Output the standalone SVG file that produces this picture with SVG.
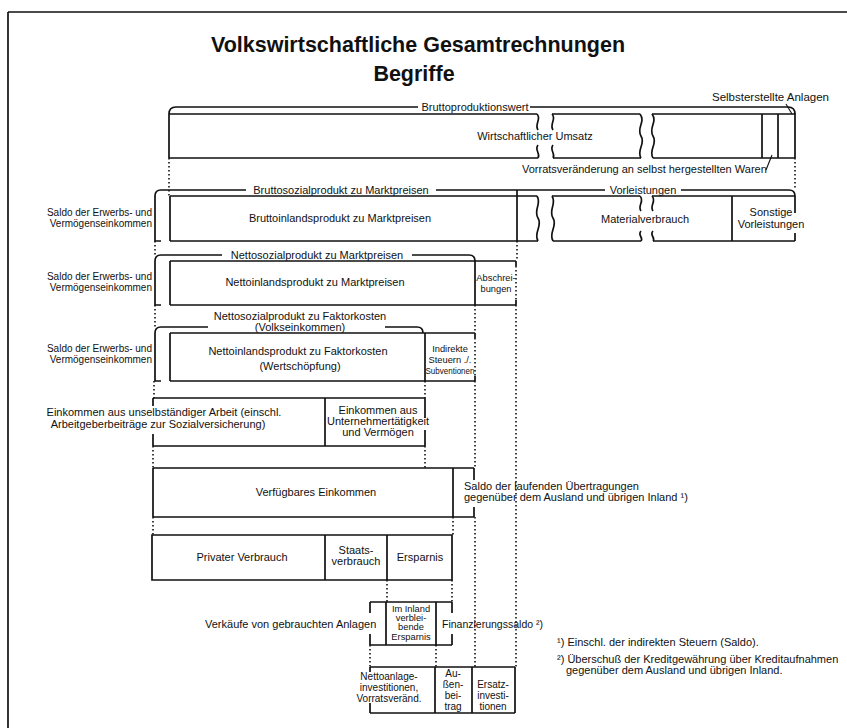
<svg xmlns="http://www.w3.org/2000/svg" width="847" height="728" viewBox="0 0 847 728">
<style>
.l{fill:none;stroke:#111;stroke-width:1.7}
.thin{fill:none;stroke:#111;stroke-width:1.1}
.d{fill:none;stroke:#111;stroke-width:1.6;stroke-dasharray:1.4 2.6}
text{font-family:"Liberation Sans",Arial,sans-serif;font-size:11px;fill:#111}
.m{text-anchor:middle}
.e{text-anchor:end}
.s{font-size:10px}
.xs{font-size:9.3px}
.h{font-weight:bold;font-size:21.5px}
</style>
<rect width="847" height="728" fill="#fff"/>
<g id="frame"><path class="l" d="M8,12 H847 M8,12 V728"/></g>
<g id="title">
<text class="h m" x="418" y="52">Volkswirtschaftliche Gesamtrechnungen</text>
<text class="h m" x="414" y="81">Begriffe</text>
</g>
<g id="bruttoproduktionswert">
<path class="l" d="M169,114 Q169,107 176,107 H418 M530,107 H788 Q795,107 795,114"/>
<text class="m" x="475" y="110.5">Bruttoproduktionswert</text>
<path class="l" d="M169,114 V158 M169,114 H537 M552,114 H640 M652,114 H795 V158 M169,158 H538 M553,158 H641 M653,158 H795 M762,114 V158 M778,114 V158"/>
<path class="l" d="M537,114 C542,119 534,124 538,130 M538,145 C534,150 541,154 538,158 M552,114 C557,119 549,124 553,130 M553,145 C549,150 556,154 553,158"/>
<path class="l" d="M640,114 C646,122 636,128 641,136 C646,144 636,150 641,158 M652,114 C658,122 648,128 653,136 C658,144 648,150 653,158"/>
<text class="m" x="535" y="140">Wirtschaftlicher Umsatz</text>
</g>
<g id="selbsterstellte-anlagen">
<text x="712" y="101" style="font-size:11.5px">Selbsterstellte Anlagen</text>
<path class="thin" d="M786,104 L792,114"/>
</g>
<g id="vorratsveraenderung">
<text x="522" y="173">Vorratsveränderung an selbst hergestellten Waren</text>
<path class="thin" d="M766,170 L772,155"/>
</g>
<g id="bruttosozialprodukt">
<path class="l" d="M155,196 Q155,190 161,190 H246 M436,190 H605 M681,190 H789 Q795,190 795,196"/>
<text class="m" x="341" y="193.5">Bruttosozialprodukt zu Marktpreisen</text>
<text class="m" x="643" y="193.5">Vorleistungen</text>
<path class="l" d="M155,196 V241 H161 M170,196 V241 M170,196 H537 M552,196 H640 M652,196 H795 M170,241 H538 M553,241 H641 M653,241 H795 M517,190 V241 M732,196 V241 M795,196 V213 M795,233 V241"/>
<path class="l" d="M537,196 C542,204 533,210 538,218 C543,226 533,233 538,241 M552,196 C557,204 548,210 553,218 C558,226 548,233 553,241"/>
<path class="l" d="M640,196 C645,201 637,206 641,211 M641,231 C637,235 644,238 641,241 M652,196 C657,201 649,206 653,211 M653,231 C649,235 656,238 653,241"/>
<text class="e s" x="152" y="216">Saldo der Erwerbs- und</text>
<text class="e s" x="152" y="227">Vermögenseinkommen</text>
<text class="m" x="340" y="222">Bruttoinlandsprodukt zu Marktpreisen</text>
<text class="m" x="645" y="223">Materialverbrauch</text>
<text class="m" x="771" y="216">Sonstige</text>
<text class="m" x="771" y="228">Vorleistungen</text>
</g>
<g id="nettosozialprodukt-marktpreise">
<path class="l" d="M155,261 Q155,255 161,255 H222 M412,255 H469 Q475,255 475,261"/>
<text class="m" x="317" y="258.5">Nettosozialprodukt zu Marktpreisen</text>
<path class="l" d="M155,261 V305 H161 M170,261 V305 M170,261 H516 M170,305 H516 M475,261 V305 M516,261 V266 M516,300 V305"/>
<text class="e s" x="152" y="280">Saldo der Erwerbs- und</text>
<text class="e s" x="152" y="291">Vermögenseinkommen</text>
<text class="m" x="315" y="286">Nettoinlandsprodukt zu Marktpreisen</text>
<text class="m xs" x="496" y="281">Abschrei-</text>
<text class="m xs" x="496" y="292">bungen</text>
</g>
<g id="nettosozialprodukt-faktorkosten">
<text class="m" x="300" y="320">Nettosozialprodukt zu Faktorkosten</text>
<text class="m" x="300" y="331">(Volkseinkommen)</text>
<path class="l" d="M155,333 Q155,327 161,327 H208 M385,327 H417 Q423,327 423,333"/>
<path class="l" d="M155,333 V381 H161 M170,333 V381 M170,333 H475 M170,381 H475 M425,333 V381 M475,333 V338 M475,376 V381"/>
<text class="e s" x="152" y="352">Saldo der Erwerbs- und</text>
<text class="e s" x="152" y="363">Vermögenseinkommen</text>
<text class="m" x="298" y="355">Nettoinlandsprodukt zu Faktorkosten</text>
<text class="m" x="300" y="370">(Wertschöpfung)</text>
<text class="m xs" x="450" y="352">Indirekte</text>
<text class="m xs" x="450" y="363">Steuern ./.</text>
<text class="m xs" x="450" y="374" textLength="49" lengthAdjust="spacingAndGlyphs">Subventionen</text>
</g>
<g id="einkommen">
<path class="l" d="M153,398 H425 M153,446 H425 M153,398 V406 M153,434 V446 M325,398 V446 M425,398 V418 M425,430 V446"/>
<text class="m" x="164" y="416">Einkommen aus unselbständiger Arbeit (einschl.</text>
<text class="m" x="158" y="428">Arbeitgeberbeiträge zur Sozialversicherung)</text>
<text class="m" x="378" y="414">Einkommen aus</text>
<text class="m" x="378" y="425">Unternehmertätigkeit</text>
<text class="m" x="378" y="436">und Vermögen</text>
</g>
<g id="verfuegbares-einkommen">
<path class="l" d="M153,468 H474 M153,517 H474 M153,468 V517 M453,468 V517 M474,468 V480 M474,507 V517"/>
<text class="m" x="316" y="496">Verfügbares Einkommen</text>
<text x="464" y="490">Saldo der laufenden Übertragungen</text>
<text x="464" y="501">gegenüber dem Ausland und übrigen Inland ¹)</text>
</g>
<g id="verwendung">
<path class="l" d="M152,535 H452 V580 H152 Z M325,535 V580 M387,535 V580"/>
<text class="m" x="242" y="561">Privater Verbrauch</text>
<text class="m" x="356" y="554">Staats-</text>
<text class="m" x="356" y="565">verbrauch</text>
<text class="m" x="420" y="561">Ersparnis</text>
</g>
<g id="ersparnis-inland">
<path class="l" d="M370,602 H452 M370,645 H452 M370,602 V613 M370,634 V645 M386,602 V645 M436,602 V645 M452,602 V613 M452,634 V645"/>
<text class="m xs" x="411" y="612">Im Inland</text>
<text class="m xs" x="411" y="621">verblei-</text>
<text class="m xs" x="411" y="630">bende</text>
<text class="m xs" x="411" y="640">Ersparnis</text>
</g>
<g id="verkaeufe"><text x="205" y="628">Verkäufe von gebrauchten Anlagen</text></g>
<g id="finanzierungssaldo"><text x="442" y="628" style="font-size:10.5px">Finanzierungssaldo ²)</text></g>
<g id="investitionen">
<path class="l" d="M370,667 H515 M370,713 H515 M370,667 V672 M370,703 V713 M435,667 V713 M472,667 V713 M515,667 V713"/>
<text class="m s" x="389" y="680">Nettoanlage-</text>
<text class="m s" x="389" y="691">investitionen,</text>
<text class="m s" x="389" y="702">Vorratsveränd.</text>
<text class="m s" x="453" y="677">Au-</text>
<text class="m s" x="453" y="688">ßen-</text>
<text class="m s" x="453" y="699">bei-</text>
<text class="m s" x="453" y="710">trag</text>
<text class="m s" x="493" y="688">Ersatz-</text>
<text class="m s" x="493" y="699">investi-</text>
<text class="m s" x="493" y="710">tionen</text>
</g>
<g id="footnotes">
<text x="557" y="646">¹) Einschl. der indirekten Steuern (Saldo).</text>
<text x="557" y="663">²) Überschuß der Kreditgewährung über Kreditaufnahmen</text>
<text x="566" y="674">gegenüber dem Ausland und übrigen Inland.</text>
</g>
<g id="connectors">
<path class="d" d="M169,158 V196 M795,158 V190 M155,241 V255 M155,305 V327 M154,381 V398 M153,446 V468 M153,517 V535 M517,241 V261 M516,266 V300 M516,305 V667 M475,305 V333 M475,338 V376 M475,381 V468 M475,517 V667 M425,381 V398 M425,446 V468 M453,517 V535 M452,580 V602 M387,580 V602 M370,645 V667 M436,645 V667"/>
</g>
</svg>
